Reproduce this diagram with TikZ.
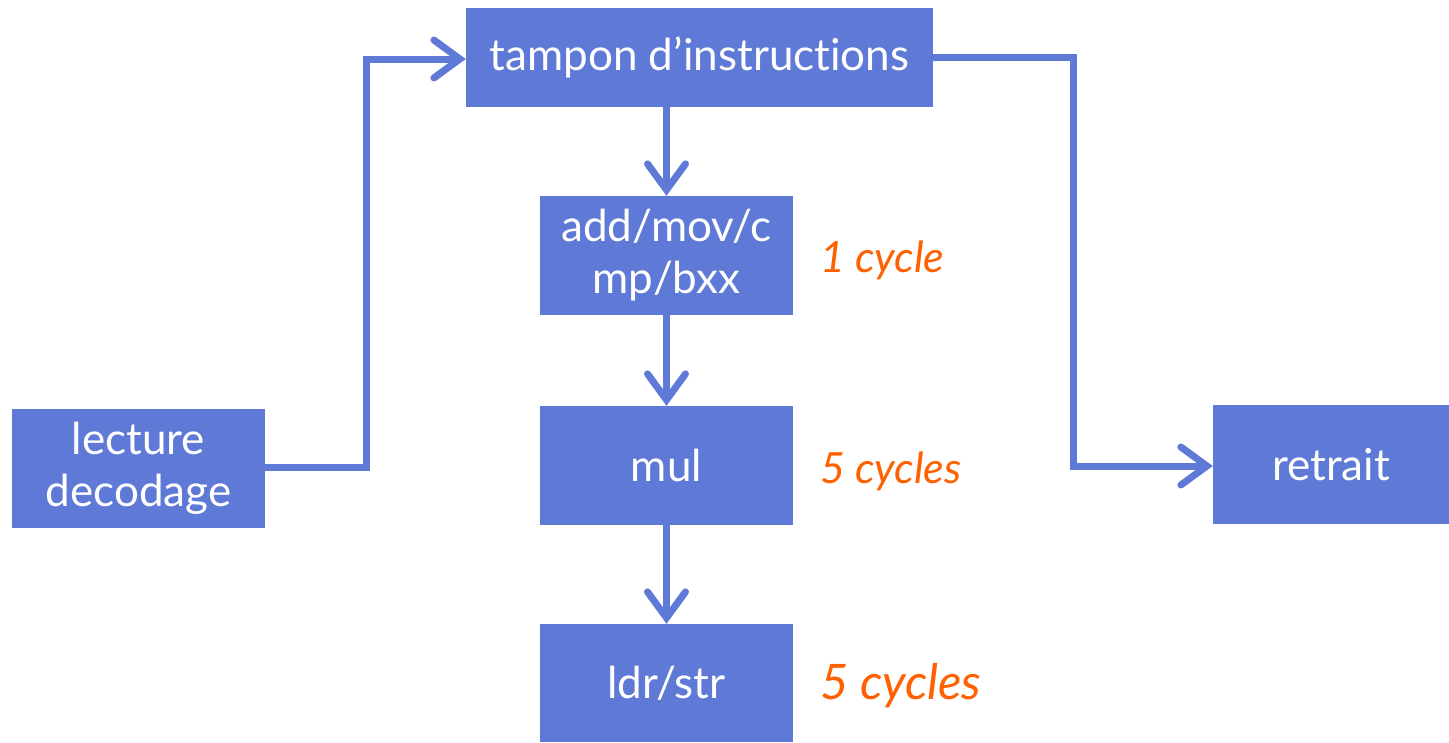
\documentclass[tikz,border=0pt]{standalone}
\usepackage{fontspec}
\setmainfont{Lato}[Ligatures={NoCommon,NoRare}]
\usetikzlibrary{arrows.meta}
\definecolor{boxblue}{HTML}{5F79D7}
\definecolor{cyc}{HTML}{FF6100}
\tikzset{
  blk/.style={fill=boxblue, draw=none, inner sep=0pt, text=white, align=center,
    font=\fontsize{44}{52}\selectfont},
  conn/.style={draw=boxblue, line width=7pt, line join=miter,
    -{Straight Barb[length=26pt, width=38pt, line cap=round, line width=7pt]}},
  lbl/.style={text=cyc, anchor=west, inner sep=0pt, font=\itshape\fontsize{43}{46}\selectfont},
}
\begin{document}
\begin{tikzpicture}[x=1pt,y=-1pt]
\useasboundingbox (0,0) rectangle (1449,742);
\node[blk, minimum width=467pt, minimum height=99pt] (tam) at (699.5,57.5) {tampon d’instructions};
\node[blk, minimum width=253pt, minimum height=119pt] (add) at (666.5,255.5) {add/mov/c\\mp/bxx};
\node[blk, minimum width=253pt, minimum height=119pt] (mul) at (666.5,465.5) {mul};
\node[blk, minimum width=253pt, minimum height=118pt] (ldr) at (666.5,683) {ldr/str};
\node[blk, minimum width=253pt, minimum height=119pt] (lec) at (138.5,468.5) {lecture\\decodage};
\node[blk, minimum width=236pt, minimum height=119pt] (ret) at (1331,464.5) {retrait};
\node[lbl] (c1) at (820,260) {1 cycle};
\node[lbl] (c2) at (820,471) {5 cycles};
\node[lbl, font=\itshape\fontsize{49}{52}\selectfont] (c3) at (820,686) {5 cycles};
\coordinate (p1) at (366,467);
\coordinate (p2) at (366,59);
\coordinate (q1) at (1073,57);
\coordinate (q2) at (1073,466);
\draw[conn] (lec.east |- p1) -- (p1) -- (p2) -- (tam.west |- p2);
\draw[conn] (tam.east |- q1) -- (q1) -- (q2) -- (ret.west |- q2);
\draw[conn] (tam.south -| add.north) -- (add.north);
\draw[conn] (add.south) -- (mul.north);
\draw[conn] (mul.south) -- (ldr.north);
\end{tikzpicture}
\end{document}
